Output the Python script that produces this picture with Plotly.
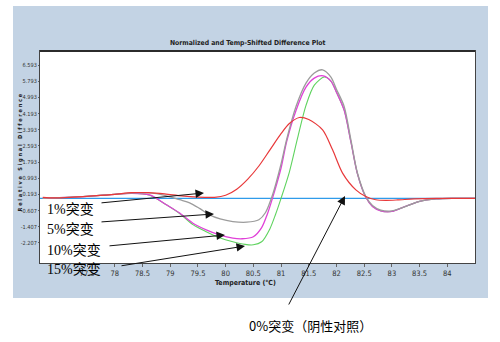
import plotly.graph_objects as go

# ---------------- data ----------------
blue_x = [76.65, 84.5]
blue_y = [0.0, 0.0]

red_x = [76.7, 76.9, 77.2, 77.6, 78.0, 78.3, 78.6, 78.9, 79.2, 79.5, 79.8, 80.0, 80.2, 80.4,
         80.6, 80.8, 81.0, 81.15, 81.33, 81.5, 81.75, 81.93, 82.11, 82.35, 82.53, 82.71, 82.89,
         83.1, 83.4, 83.8, 84.2, 84.5]
red_y = [0.05, 0.02, 0.05, 0.12, 0.2, 0.28, 0.28, 0.22, 0.12, 0.06, 0.05, 0.15, 0.45, 0.95,
         1.6, 2.4, 3.2, 3.7, 4.0, 3.9, 3.39, 2.4, 1.25, 0.42, 0.09, -0.07, -0.1,
         -0.08, -0.03, 0.0, 0.0, 0.0]

gray_x = [76.7, 77.0, 77.5, 78.0, 78.3, 78.63, 78.9, 79.17, 79.35, 79.53, 79.71, 79.9, 80.13,
          80.38, 80.6, 80.72, 80.85, 81.0, 81.1, 81.27, 81.45, 81.6, 81.75, 81.9, 82.0, 82.14,
          82.26, 82.38, 82.53, 82.65, 82.8, 83.0, 83.2, 83.5, 83.8, 84.1, 84.5]
gray_y = [0.0, 0.03, 0.1, 0.2, 0.26, 0.27, 0.15, -0.07, -0.22, -0.5, -0.82, -1.02, -1.15,
          -1.18, -1.06, -0.7, 0.2, 1.7, 2.9, 4.54, 5.7, 6.2, 6.36, 6.0, 5.4, 4.54,
          2.9, 1.24, 0.09, -0.35, -0.58, -0.62, -0.45, -0.15, -0.03, 0.0, 0.0]

pink_x = [76.7, 77.0, 77.5, 78.0, 78.3, 78.63, 78.93, 79.17, 79.41, 79.65, 79.89, 80.13, 80.3,
          80.5, 80.65, 80.75, 80.85, 81.0, 81.1, 81.27, 81.45, 81.6, 81.76, 81.9, 82.0, 82.14,
          82.26, 82.38, 82.53, 82.65, 82.8, 83.0, 83.2, 83.5, 83.8, 84.1, 84.5]
pink_y = [0.0, 0.03, 0.1, 0.2, 0.25, 0.17, -0.32, -0.73, -1.23, -1.56, -1.81, -1.97, -2.0,
          -1.9, -1.45, -0.8, 0.05, 1.5, 2.8, 4.35, 5.5, 5.95, 6.06, 5.8, 5.25, 4.35,
          2.8, 1.2, 0.05, -0.4, -0.62, -0.65, -0.45, -0.15, -0.03, 0.0, 0.0]

green_x = [76.7, 77.0, 77.5, 78.0, 78.3, 78.63, 78.93, 79.17, 79.41, 79.65, 79.89, 80.13, 80.35,
           80.5, 80.65, 80.8, 80.9, 81.0, 81.15, 81.3, 81.45, 81.6, 81.78, 81.9, 82.0, 82.14,
           82.26, 82.38, 82.53, 82.65, 82.8, 83.0, 83.2, 83.5, 83.8, 84.1, 84.5]
green_y = [0.0, 0.03, 0.1, 0.2, 0.25, 0.15, -0.32, -0.75, -1.3, -1.65, -1.95, -2.15, -2.28,
           -2.3, -2.15, -1.5, -0.8, 0.0, 1.3, 3.0, 4.6, 5.6, 6.0, 5.8, 5.25, 4.35,
           2.8, 1.2, 0.05, -0.4, -0.62, -0.65, -0.45, -0.15, -0.03, 0.0, 0.0]

x_ticks = [77.5, 78, 78.5, 79, 79.5, 80, 80.5, 81, 81.5, 82, 82.5, 83, 83.5, 84]
x_tick_labels = ["77.5", "78", "78.5", "79", "79.5", "80", "80.5", "81", "81.5", "82",
                 "82.5", "83", "83.5", "84"]
y_ticks = [6.593, 5.793, 4.993, 4.193, 3.393, 2.593, 1.793, 0.993, 0.193, -0.607, -1.407, -2.207]
y_tick_labels = ["6.593", "5.793", "4.993", "4.193", "3.393", "2.593", "1.793", "0.993",
                 "0.193", "-0.607", "-1.407", "-2.207"]

labels = ["1%突变", "5%突变", "10%突变", "15%突变"]
label_0 = "0%突变（阴性对照）"
title_text = "Normalized and Temp-Shifted Difference Plot"
x_title = "Temperature (℃)"
y_title = "Relative Signal Difference"

# ---------------- geometry helpers (pixel -> paper) ----------------
W, H = 500, 342
PL, PR, PT, PB = 40, 475, 51, 263


def px(x):
    return (x - PL) / (PR - PL)


def py(y):
    return (PB - y) / (PB - PT)


fig = go.Figure()
line_kw = dict(shape="spline", smoothing=0.8)
fig.add_trace(go.Scatter(x=blue_x, y=blue_y, mode="lines",
                         line=dict(color="#2f9bea", width=1.4)))
fig.add_trace(go.Scatter(x=green_x, y=green_y, mode="lines",
                         line=dict(color="#5fd35f", width=1.1, **line_kw)))
fig.add_trace(go.Scatter(x=pink_x, y=pink_y, mode="lines",
                         line=dict(color="#e040d8", width=1.3, **line_kw)))
fig.add_trace(go.Scatter(x=gray_x, y=gray_y, mode="lines",
                         line=dict(color="#9c9c9c", width=1.3, **line_kw)))
fig.add_trace(go.Scatter(x=red_x, y=red_y, mode="lines",
                         line=dict(color="#e8383a", width=1.2, **line_kw)))

shapes = [
    dict(type="rect", xref="paper", yref="paper", x0=px(13), x1=px(488), y0=py(298), y1=py(6),
         fillcolor="#c3d3e4", line=dict(width=0), layer="below"),
    dict(type="rect", xref="paper", yref="paper", x0=0, x1=1, y0=0, y1=1,
         fillcolor="white", line=dict(width=0), layer="below"),
    dict(type="line", xref="paper", yref="paper", x0=0, x1=1, y0=1, y1=1,
         line=dict(color="#2b2b2b", width=2)),
]

narrow = "DejaVu Sans Condensed, Liberation Sans Narrow, Liberation Sans, sans-serif"
serif = "Liberation Serif, Noto Sans CJK SC, serif"

annotations = [
    dict(text="<b>" + title_text + "</b>", xref="paper", yref="paper", x=px(247), y=py(37),
         showarrow=False, font=dict(family=narrow, size=6.8, color="#222")),
    dict(text="<b>" + x_title + "</b>", xref="paper", yref="paper", x=px(245), y=py(289),
         showarrow=False, font=dict(family=narrow, size=7, color="#222")),
    dict(text="<b>" + " ".join(list(y_title)) + "</b>", xref="paper", yref="paper",
         x=px(14), y=py(153), textangle=-90, showarrow=False,
         font=dict(family=narrow, size=5.6, color="#222")),
]

label_pos = [(45, 209), (45, 229), (45, 250), (45, 269)]
arrows = [((100, 203), (204, 193)), ((100, 222), (214, 214)),
          ((108, 246), (225, 235)), ((120, 266), (245, 246))]
for txt, (lx, ly) in zip(labels, label_pos):
    annotations.append(dict(text=txt, xref="paper", yref="paper", x=px(lx), y=py(ly),
                            xanchor="left", yanchor="middle", showarrow=False,
                            font=dict(family=serif, size=14, color="black")))
for (tx, ty), (hx, hy) in arrows + [((288, 306), (345, 196))]:
    annotations.append(dict(text="", xref="paper", yref="paper", x=px(hx), y=py(hy),
                            axref="pixel", ayref="pixel", ax=tx - hx, ay=ty - hy,
                            showarrow=True, arrowhead=2, arrowsize=1.7, arrowwidth=1,
                            arrowcolor="#111"))
annotations.append(dict(text=label_0, xref="paper", yref="paper", x=px(247), y=py(325),
                        xanchor="left", yanchor="middle", showarrow=False,
                        font=dict(family="Noto Sans CJK SC, sans-serif", size=13, color="black")))

fig.update_layout(
    width=W, height=H,
    margin=dict(l=PL, r=W - PR, t=PT, b=H - PB, autoexpand=False),
    paper_bgcolor="white", plot_bgcolor="white",
    showlegend=False,
    shapes=shapes, annotations=annotations,
    xaxis=dict(range=[76.65, 84.5], tickvals=x_ticks, ticktext=x_tick_labels,
               showgrid=False, zeroline=False, showline=True, mirror=True,
               linecolor="#444", linewidth=1, ticks="outside", ticklen=3, tickcolor="#666",
               tickfont=dict(family=narrow, size=7.5, color="#333")),
    yaxis=dict(range=[-3.2, 7.29], tickvals=y_ticks, ticktext=y_tick_labels,
               showgrid=False, zeroline=False, showline=True, mirror=True,
               linecolor="#444", linewidth=1, ticks="outside", ticklen=1, tickcolor="#666",
               ticklabelstandoff=0,
               tickfont=dict(family=narrow, size=5.6, color="#333")),
)

fig.write_html("out.html")
